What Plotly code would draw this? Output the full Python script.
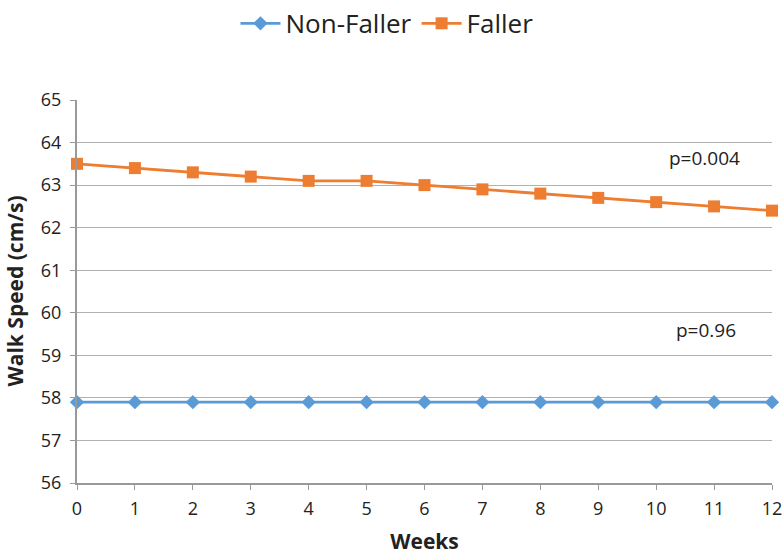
import plotly.graph_objects as go

weeks = list(range(13))
non_faller = [57.9] * 13
faller = [63.5, 63.4, 63.3, 63.2, 63.1, 63.1, 63.0, 62.9, 62.8, 62.7, 62.6, 62.5, 62.4]
y_ticks = list(range(56, 66))

fig = go.Figure()
fig.add_trace(go.Scatter(x=weeks, y=non_faller, name="Non-Faller", mode="lines+markers",
                         line=dict(color="#5B9BD5", width=2.8),
                         marker=dict(symbol="diamond", size=11, color="#5B9BD5"),
                         cliponaxis=False))
fig.add_trace(go.Scatter(x=weeks, y=faller, name="Faller", mode="lines+markers",
                         line=dict(color="#ED7D31", width=2.8),
                         marker=dict(symbol="square", size=12, color="#ED7D31"),
                         cliponaxis=False))

fig.add_annotation(x=10.83, y=63.63, text="p=0.004", showarrow=False, xref="x", yref="y",
                   font=dict(size=19, color="#222"))
fig.add_annotation(x=10.86, y=59.6, text="p=0.96", showarrow=False, xref="x", yref="y",
                   font=dict(size=19, color="#222"))
fig.add_annotation(x=-0.0906, y=0.5, xref="paper", yref="paper", text="<b>Walk Speed (cm/s)</b>",
                   textangle=-90, showarrow=False, font=dict(size=21, color="#222"),
                   xanchor="center", yanchor="middle")

fig.update_layout(
    width=784, height=555,
    margin=dict(l=77, r=12, t=100, b=72, autoexpand=False),
    plot_bgcolor="white", paper_bgcolor="white",
    font=dict(family="Open Sans, Liberation Sans, sans-serif", color="#222"),
    legend=dict(orientation="h", x=0.446, xanchor="center", y=1.2, yanchor="middle",
                font=dict(size=26), itemwidth=40, tracegroupgap=0),
    xaxis=dict(range=[0, 12], tickvals=weeks, showgrid=False, showline=True,
               linecolor="#999", linewidth=2, ticks="outside", tickcolor="#999",
               ticklen=5, tickfont=dict(size=18), zeroline=False, automargin=False,
               ticklabelstandoff=3,
               title=dict(text="<b>Weeks</b>", font=dict(size=21), standoff=18)),
    yaxis=dict(range=[56, 65], tickvals=y_ticks, showgrid=True, gridcolor="#b0b0b0",
               gridwidth=1, showline=True, linecolor="#999", linewidth=2,
               ticks="outside", tickcolor="#999", ticklen=5, tickfont=dict(size=18),
               zeroline=False, automargin=False, ticklabelstandoff=5),
)

fig.write_html("out.html", config={"displayModeBar": False},
               post_script="document.body.style.margin='0px';document.body.style.overflow='hidden';")
